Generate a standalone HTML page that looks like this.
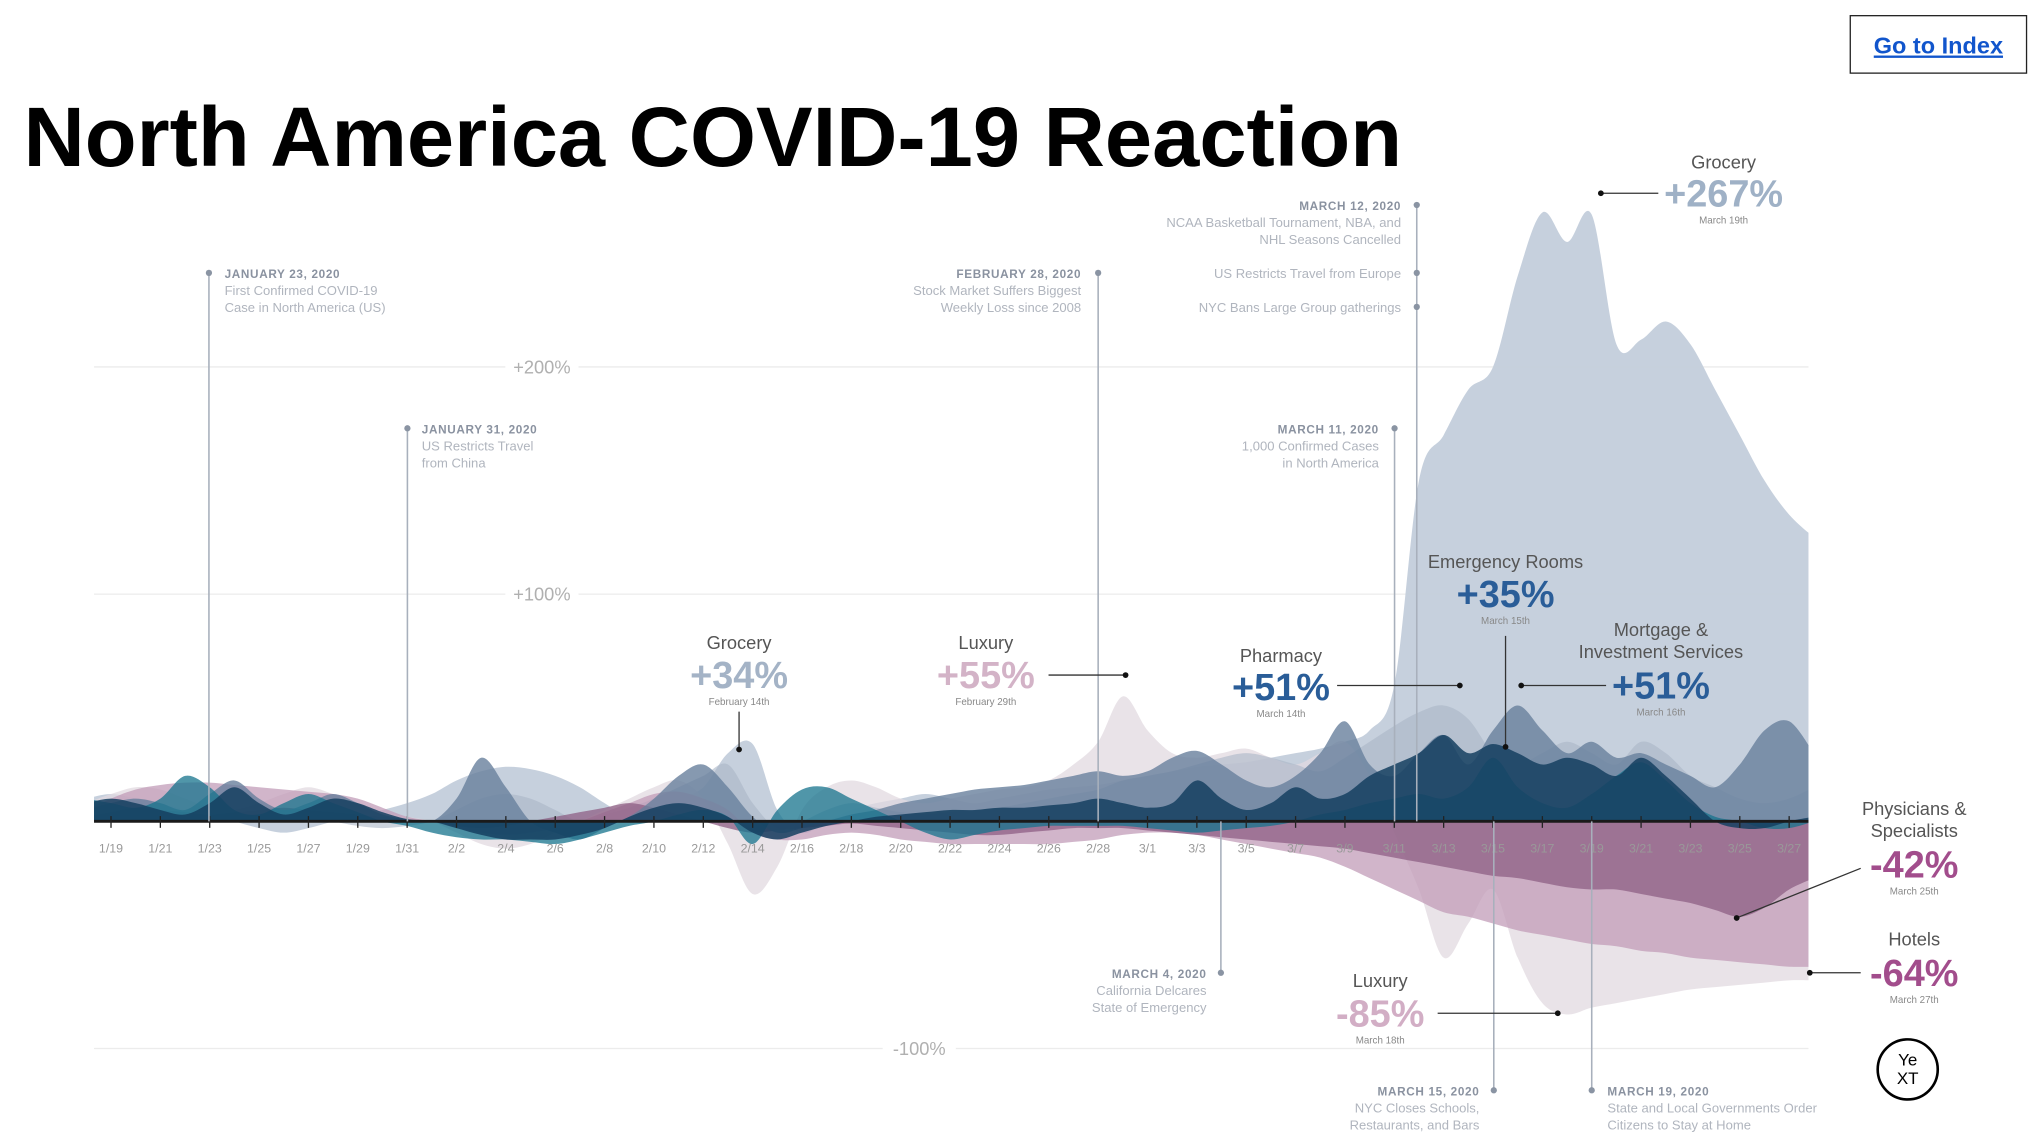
<!DOCTYPE html>
<html><head><meta charset="utf-8"><style>
html,body{margin:0;padding:0;background:#fff;width:2037px;height:1133px;overflow:hidden}
svg{display:block}
text{font-family:"Liberation Sans",sans-serif}
</style></head><body>
<svg id="chart" width="2037" height="1133" viewBox="0 0 1560 867.7" xmlns="http://www.w3.org/2000/svg">
<defs><clipPath id="plotclip"><rect x="72" y="100" width="1313" height="760"/></clipPath></defs>
<text x="18" y="127" font-size="65" font-weight="bold" fill="#000">North America COVID-19 Reaction</text>
<g>
<rect x="1417" y="12" width="135" height="44" fill="#fff" stroke="#222" stroke-width="1"/>
<text x="1484.5" y="41" font-size="18" font-weight="bold" fill="#1155cc" text-anchor="middle" text-decoration="underline">Go to Index</text>
</g>
<g id="grid"></g>
<g id="areas" clip-path="url(#plotclip)"></g>
<g id="axis"></g>
<g id="events"></g>
<g id="callouts"></g>
<g>
<circle cx="1461" cy="819" r="23" fill="#fff" stroke="#000" stroke-width="2"/>
<text x="1461" y="816" font-size="13" text-anchor="middle" fill="#000">Ye</text>
<text x="1461" y="830" font-size="13" text-anchor="middle" fill="#000">XT</text>
</g>
</svg>
<script>
const ticks=['1/19','1/21','1/23','1/25','1/27','1/29','1/31','2/2','2/4','2/6','2/8','2/10','2/12','2/14','2/16','2/18','2/20','2/22','2/24','2/26','2/28','3/1','3/3','3/5','3/7','3/9','3/11','3/13','3/15','3/17','3/19','3/21','3/23','3/25','3/27'];
const yTicks=[200,100,-100];
const yTickLabels=['+200%','+100%','-100%'];
// daily values, index 0 = 1/18 ... 70 = 3/28
const grocery=[10,12,10,8,5,3,0,-3,-5,-3,0,3,5,8,12,18,22,24,23,20,15,8,2,5,10,15,30,34,5,-5,0,5,8,10,12,10,8,10,12,14,15,16,18,20,22,24,25,26,28,30,32,35,40,60,150,170,190,200,240,268,255,267,210,212,220,210,190,170,150,135,125];
const luxury=[8,12,15,14,10,6,5,8,12,15,12,8,4,2,0,-5,-10,-12,-10,-5,0,5,10,15,18,10,-10,-32,-20,5,15,18,15,10,8,10,12,14,15,18,25,35,55,40,30,28,30,32,28,25,30,35,20,-5,-30,-60,-45,-30,-60,-80,-85,-82,-80,-78,-76,-74,-73,-72,-71,-70,-70];
const pharmacy=[5,6,5,3,2,0,0,2,3,2,0,-2,-3,-2,0,5,10,12,10,5,0,3,6,10,15,20,25,8,-3,0,5,8,6,4,3,4,5,6,8,10,12,14,18,20,22,25,28,30,28,25,22,28,35,42,48,51,45,30,25,30,35,30,25,35,30,20,15,10,8,10,15];
const hotels=[5,10,14,16,17,17,16,15,14,13,12,10,6,2,0,-3,-5,-6,-5,-3,0,4,8,12,13,10,5,-5,-8,-8,-6,-5,-6,-8,-9,-10,-10,-10,-10,-10,-9,-8,-6,-5,-5,-6,-8,-10,-12,-14,-16,-20,-25,-30,-35,-40,-42,-45,-48,-50,-52,-54,-55,-57,-58,-60,-61,-62,-63,-64,-64];
const physicians=[2,4,6,5,4,3,4,5,6,5,4,3,2,1,0,-2,-3,-2,0,2,4,6,8,6,3,0,-3,-5,-4,-3,-2,-1,-2,-3,-4,-5,-6,-6,-5,-4,-3,-3,-3,-4,-5,-6,-7,-8,-9,-10,-11,-12,-14,-16,-18,-20,-22,-24,-25,-27,-29,-30,-30,-32,-34,-36,-39,-42,-38,-30,-25];
const mortgage=[5,8,10,8,5,12,18,10,5,8,12,8,3,1,0,10,28,15,0,-5,-8,-3,2,10,20,25,15,2,-5,-3,0,3,5,8,10,12,14,15,16,18,20,22,20,22,28,31,25,18,15,20,30,44,25,20,30,38,25,40,51,40,30,35,28,30,25,20,15,25,40,44,30];
const emergency=[8,10,8,5,3,8,15,8,3,6,10,8,4,1,0,-3,-6,-8,-8,-8,-6,-3,2,6,8,6,2,-5,-8,-5,-2,0,2,3,4,5,5,6,6,7,8,10,8,6,8,18,10,5,8,15,10,12,20,25,30,38,30,34,30,25,28,25,20,28,20,10,0,-3,-3,0,2];
const teal=[10,8,6,10,20,15,5,3,8,12,8,4,0,-2,-5,-7,-8,-8,-9,-10,-8,-5,-2,0,3,5,2,-10,5,14,15,10,5,0,-5,-8,-6,-4,-3,-2,-2,-2,-2,-3,-4,-5,-4,-3,-2,0,3,5,8,10,12,10,15,28,15,8,6,12,20,26,18,8,2,0,-3,-3,0];

const NS='http://www.w3.org/2000/svg';
const X0=85, DX=18.9, Y0=629, YS=1.74;
function xDay(i){return X0+(i-1)*DX;}
function yVal(v){return Y0-v*YS;}
function mk(tag,attrs,parent,txt){const e=document.createElementNS(NS,tag);for(const k in attrs)e.setAttribute(k,attrs[k]);if(txt!==undefined)e.textContent=txt;parent.appendChild(e);return e;}
function smooth(pts){let d='M'+pts[0][0]+','+pts[0][1];for(let i=0;i<pts.length-1;i++){const p0=pts[i-1]||pts[i],p1=pts[i],p2=pts[i+1],p3=pts[i+2]||p2;const c1x=p1[0]+(p2[0]-p0[0])/6,c1y=p1[1]+(p2[1]-p0[1])/6,c2x=p2[0]-(p3[0]-p1[0])/6,c2y=p2[1]-(p3[1]-p1[1])/6;d+=' C'+c1x.toFixed(1)+','+c1y.toFixed(1)+' '+c2x.toFixed(1)+','+c2y.toFixed(1)+' '+p2[0].toFixed(1)+','+p2[1].toFixed(1);}return d;}

const grid=document.getElementById('grid');
yTicks.forEach((v,k)=>{
  const l=mk('line',{x1:72,x2:1385,y1:yVal(v),y2:yVal(v),stroke:'#ececec','stroke-width':1},grid);
  
  
  const lx=v<0?704:415;
  mk('rect',{x:lx-28,y:yVal(v)-9,width:56,height:18,fill:'#fff'},grid);
  const t=mk('text',{x:lx,y:yVal(v)+5,'font-size':14,fill:'#b0b0b0','text-anchor':'middle'},grid,yTickLabels[k]);
  
  
});

const areas=document.getElementById('areas');
const series=[
 ['grocery-area',grocery,'#c3cedb',0.95],
 ['luxury-area',luxury,'#e2d9e0',0.75],
 ['pharmacy-area',pharmacy,'#aab6c7',0.6],
 ['hotels-area',hotels,'#c29cb8',0.75],
 ['physicians-area',physicians,'#8e5f84',0.75],
 ['mortgage-area',mortgage,'#687f9c',0.8],
 ['teal-area',teal,'#16738c',0.75],
 ['emergency-rooms-area',emergency,'#153f60',0.85]
];
series.forEach(s=>{
  const pts=s[1].map((v,i)=>[xDay(i),yVal(v)]);
  const d=smooth(pts)+' L'+xDay(s[1].length-1)+','+Y0+' L'+xDay(0)+','+Y0+' Z';
  const p=mk('path',{d:d,fill:s[2],'fill-opacity':s[3]},areas);
  
  
});

const axis=document.getElementById('axis');
mk('line',{x1:72,x2:1385,y1:Y0,y2:Y0,stroke:'#1a1a1a','stroke-width':2.2},axis);
ticks.forEach((t,k)=>{
  const x=xDay(1+2*k);
  mk('line',{x1:x,x2:x,y1:Y0-4,y2:Y0+5,stroke:'#222','stroke-width':1},axis);
  const tx=mk('text',{x:x,y:653,'font-size':9.5,fill:'#999','text-anchor':'middle'},axis,t);
  
  
});

const ev=document.getElementById('events');
function event(name,x,y1,y2,dots,lines,tx,ty,anchor){
  const g=mk('g',{},ev);
  
  
  mk('line',{x1:x,x2:x,y1:y1,y2:y2,stroke:'#a8b0bc','stroke-width':1.2},g);
  dots.forEach(d=>mk('circle',{cx:x,cy:d,r:2.4,fill:'#8a94a3'},g));
  lines.forEach((l,i)=>mk('text',{x:tx,y:ty+i*13,'font-size':l.bold?9:10,'font-weight':l.bold?'bold':'normal',fill:l.bold?'#8a92a0':'#b0b5be','text-anchor':anchor,'letter-spacing':l.bold?0.5:0},g,l.t));
}
const B=t=>({t:t,bold:true}),N=t=>({t:t});
event('event-jan-23',160,209,629,[209],[B('JANUARY 23, 2020'),N('First Confirmed COVID-19'),N('Case in North America (US)')],172,213,'start');
event('event-jan-31',312,328,629,[328],[B('JANUARY 31, 2020'),N('US Restricts Travel'),N('from China')],323,332,'start');
event('event-feb-28',841,209,629,[209],[B('FEBRUARY 28, 2020'),N('Stock Market Suffers Biggest'),N('Weekly Loss since 2008')],828,213,'end');
event('event-mar-12',1085,157,629,[157,209,235],[B('MARCH 12, 2020'),N('NCAA Basketball Tournament, NBA, and'),N('NHL Seasons Cancelled')],1073,161,'end');
mk('text',{x:1073,y:213,'font-size':10,fill:'#b0b5be','text-anchor':'end'},ev,'US Restricts Travel from Europe');
mk('text',{x:1073,y:239,'font-size':10,fill:'#b0b5be','text-anchor':'end'},ev,'NYC Bans Large Group gatherings');
event('event-mar-11',1068,328,629,[328],[B('MARCH 11, 2020'),N('1,000 Confirmed Cases'),N('in North America')],1056,332,'end');
event('event-mar-4',935,629,745,[745],[B('MARCH 4, 2020'),N('California Delcares'),N('State of Emergency')],924,749,'end');
event('event-mar-15',1144,629,835,[835],[B('MARCH 15, 2020'),N('NYC Closes Schools,'),N('Restaurants, and Bars')],1133,839,'end');
event('event-mar-19',1219,629,835,[835],[B('MARCH 19, 2020'),N('State and Local Governments Order'),N('Citizens to Stay at Home')],1231,839,'start');

const co=document.getElementById('callouts');
function callout(name,cx,labels,ly,val,vy,color,date,line,dot){
  const g=mk('g',{},co);
  
  
  labels.forEach((l,i)=>mk('text',{x:cx,y:ly+i*17,'font-size':14,fill:'#555','text-anchor':'middle'},g,l));
  mk('text',{x:cx,y:vy,'font-size':29,'font-weight':'bold',fill:color,'text-anchor':'middle'},g,val);
  mk('text',{x:cx,y:vy+13,'font-size':7.5,fill:'#888','text-anchor':'middle'},g,date);
  mk('line',{x1:line[0],y1:line[1],x2:line[2],y2:line[3],stroke:'#333','stroke-width':1},g);
  mk('circle',{cx:dot[0],cy:dot[1],r:2.2,fill:'#111'},g);
}
callout('callout-grocery-feb',566,['Grocery'],497,'+34%',527,'#a4b3c6','February 14th',[566,545,566,574],[566,574]);
callout('callout-luxury-feb',755,['Luxury'],497,'+55%',527,'#d3b3c7','February 29th',[803,517,862,517],[862,517]);
callout('callout-pharmacy',981,['Pharmacy'],507,'+51%',536,'#2a5d98','March 14th',[1024,525,1118,525],[1118,525]);
callout('callout-emergency-rooms',1153,['Emergency Rooms'],435,'+35%',465,'#2a5d98','March 15th',[1153,487,1153,572],[1153,572]);
callout('callout-mortgage',1272,['Mortgage &','Investment Services'],487,'+51%',535,'#2a5d98','March 16th',[1165,525,1230,525],[1165,525]);
callout('callout-grocery-mar',1320,['Grocery'],129,'+267%',158,'#9fb1c6','March 19th',[1226,148,1270,148],[1226,148]);
callout('callout-physicians',1466,['Physicians &','Specialists'],624,'-42%',672,'#a24d8c','March 25th',[1425,665,1330,703],[1330,703]);
callout('callout-hotels',1466,['Hotels'],724,'-64%',755,'#a24d8c','March 27th',[1386,745,1425,745],[1386,745]);
callout('callout-luxury-mar',1057,['Luxury'],756,'-85%',786,'#d2aec5','March 18th',[1101,776,1193,776],[1193,776]);
</script>
</body></html>
